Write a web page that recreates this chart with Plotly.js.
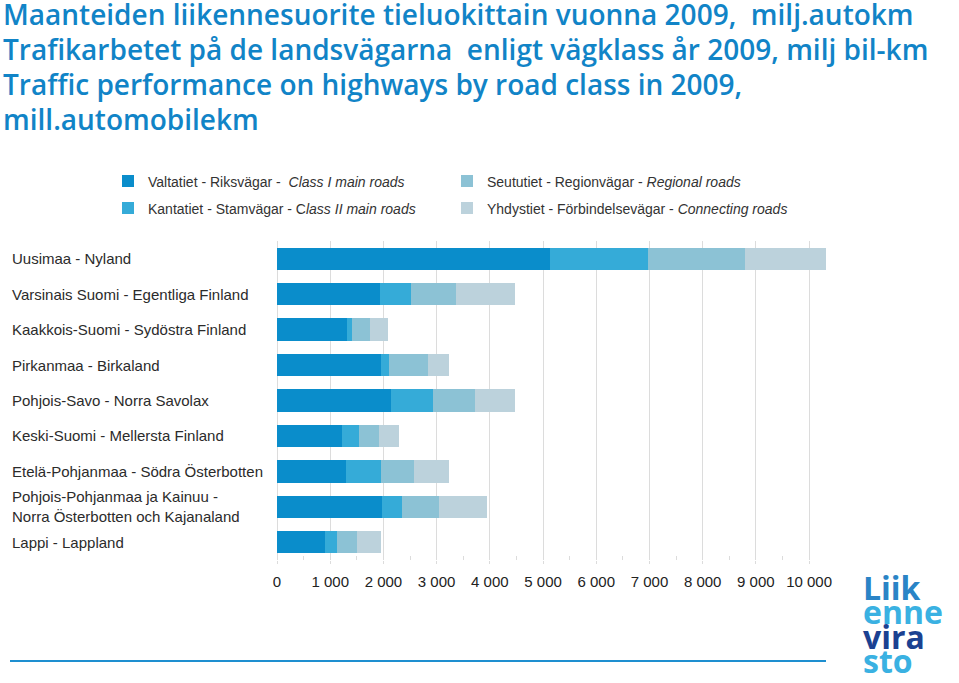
<!DOCTYPE html>
<html>
<head>
<meta charset="utf-8">
<script src="https://cdn.plot.ly/plotly-3.0.1.min.js"></script>
<style>
html,body{margin:0;padding:0;background:#fff;}
#chart{width:959px;height:683px;}
</style>
</head>
<body>
<div id="chart"></div>
<script>
// ---- data ----
const categories = [
  "Uusimaa - Nyland",
  "Varsinais Suomi - Egentliga Finland",
  "Kaakkois-Suomi - Sydöstra Finland",
  "Pirkanmaa - Birkaland",
  "Pohjois-Savo - Norra Savolax",
  "Keski-Suomi - Mellersta Finland",
  "Etelä-Pohjanmaa - Södra Österbotten",
  "Pohjois-Pohjanmaa ja Kainuu -<br>Norra Österbotten och Kajanaland",
  "Lappi - Lappland"
];
const classI      = [5130, 1930, 1310, 1950, 2140, 1220, 1290, 1965, 910];
const classII     = [1850,  580,   95,  150,  785,  320,  665,  380, 225];
const regional    = [1820,  850,  350,  735,  800,  370,  625,  700, 375];
const connecting  = [1520, 1110,  340,  400,  745,  380,  660,  910, 440];

const seriesNames = [
  "Valtatiet - Riksvägar -  <i>Class I main roads</i>",
  "Kantatiet - Stamvägar - C<i>lass II main roads</i>",
  "Seututiet - Regionvägar - <i>Regional roads</i>",
  "Yhdystiet - Förbindelsevägar - <i>Connecting roads</i>"
];
const tickVals = [0, 1000, 2000, 3000, 4000, 5000, 6000, 7000, 8000, 9000, 10000];
const tickText = ["0", "1 000", "2 000", "3 000", "4 000", "5 000", "6 000", "7 000", "8 000", "9 000", "10 000"];

const titleLines = [
  "Maanteiden liikennesuorite tieluokittain vuonna 2009,  milj.autokm",
  "Trafikarbetet på de landsvägarna  enligt vägklass år 2009, milj bil-km",
  "Traffic performance on highways by road class in 2009,",
  "mill.automobilekm"
];
const logoLines = ["Liik", "enne", "vira", "sto"];

// ---- styles ----
const colors = ["#0a8dcb", "#35abd8", "#8cc2d5", "#bcd2dc"];
const legendIds = ["legend", "legend2", "legend3", "legend4"];
const seriesData = [classI, classII, regional, connecting];

const traces = seriesData.map((vals, i) => ({
  type: "bar",
  orientation: "h",
  y: categories,
  x: vals,
  name: seriesNames[i],
  legend: legendIds[i],
  marker: {color: colors[i], line: {width: 0}},
  width: 0.63,
  hoverinfo: "x+name"
}));

const W = 564, H = 319, L = 277, T = 241;
const px2x = p => (p - L) / W;
const py2y = p => (T + H - p) / H;

const annotations = [];
const titleY = [14, 49, 84, 119];
titleLines.forEach((t, i) => {
  annotations.push({
    xref: "paper", yref: "paper", x: px2x(1), y: py2y(titleY[i]),
    xanchor: "left", yanchor: "middle", align: "left",
    text: t, showarrow: false,
    font: {family: "Open Sans, sans-serif", size: 28, weight: 600, color: "#1184c7"}
  });
});
categories.forEach(c => {
  annotations.push({
    xref: "paper", yref: "y", x: px2x(10), y: c,
    xanchor: "left", yanchor: "middle", align: "left",
    text: c, showarrow: false,
    font: {family: "Liberation Sans, Arial, sans-serif", size: 15, color: "#2b2b2b"}
  });
});
const logoColors = ["#2a84c6", "#3ab1e2", "#1b4191", "#3ab1e2"];
const logoY = [587, 611, 636, 660];
logoLines.forEach((t, i) => {
  annotations.push({
    xref: "paper", yref: "paper", x: px2x(861), y: py2y(logoY[i]),
    xanchor: "left", yanchor: "middle",
    text: t, showarrow: false,
    font: {family: "Open Sans, sans-serif", size: 32, weight: 700, color: logoColors[i]}
  });
});

const legendFont = {family: "Liberation Sans, Arial, sans-serif", size: 14, color: "#333"};
const legendPos = [[108, 181.5], [108, 208.5], [447, 181.5], [447, 208.5]];
const legends = {};
legendIds.forEach((id, i) => {
  legends[id] = {
    orientation: "v", x: px2x(legendPos[i][0]), xanchor: "left",
    y: py2y(legendPos[i][1]), yanchor: "middle",
    font: legendFont, bgcolor: "rgba(0,0,0,0)", borderwidth: 0
  };
});

const layout = Object.assign({
  width: 959, height: 683,
  margin: {l: L, r: 959 - L - W, t: T, b: 683 - T - H, pad: 0},
  paper_bgcolor: "#fff", plot_bgcolor: "#fff",
  barmode: "stack",
  xaxis: {
    range: [0, 10600],
    tickvals: tickVals, ticktext: tickText,
    showgrid: true, gridcolor: "#dcdcdc", gridwidth: 1,
    zeroline: true, zerolinecolor: "#dcdcdc", zerolinewidth: 1,
    ticks: "outside", ticklen: 3, tickcolor: "#dcdcdc",
    ticklabelstandoff: 5,
    minor: {tickvals: [500,1500,2500,3500,4500,5500,6500,7500,8500,9500], ticks: "inside", ticklen: 4, tickcolor: "#dcdcdc", showgrid: false},
    tickfont: {family: "Liberation Sans, Arial, sans-serif", size: 15, color: "#222"},
    showline: false, fixedrange: true
  },
  yaxis: {
    autorange: "reversed",
    showticklabels: false, showgrid: false, zeroline: false, showline: false,
    ticks: "", fixedrange: true
  },
  showlegend: true,
  annotations: annotations,
  shapes: [{
    type: "line", xref: "paper", yref: "paper",
    x0: px2x(10), x1: px2x(826), y0: py2y(661), y1: py2y(661),
    line: {color: "#1e8fd0", width: 2}
  }]
}, legends);

Plotly.newPlot("chart", traces, layout, {displayModeBar: false, staticPlot: true});
</script>
</body>
</html>
